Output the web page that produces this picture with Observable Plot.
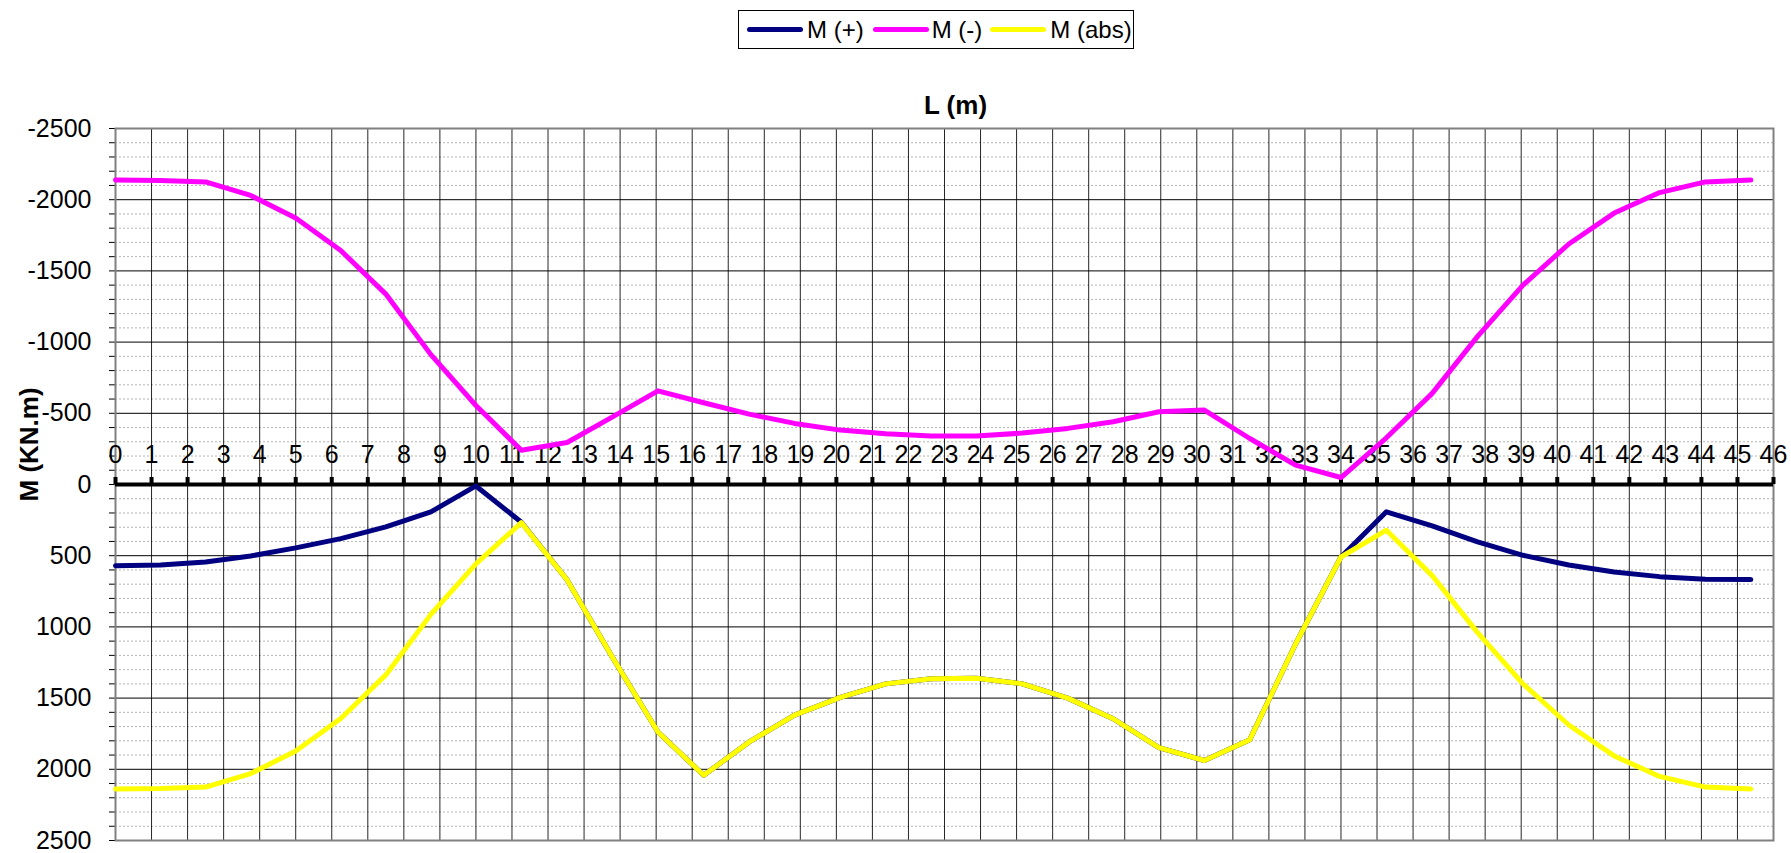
<!DOCTYPE html>
<html>
<head>
<meta charset="utf-8">
<script src="https://cdn.jsdelivr.net/npm/d3@7"></script>
<script src="https://cdn.jsdelivr.net/npm/@observablehq/plot@0.6"></script>
<style>
  html, body { margin: 0; padding: 0; background: #fff; overflow: hidden; }
  body { width: 1791px; height: 853px; font-family: "Liberation Sans", Arial, sans-serif; }
  #legendRow { position: relative; height: 60px; }
  #legend { position: absolute; left: 738px; top: 10px; width: 394px; height: 37px;
            border: 1px solid #000; display: flex; align-items: center; padding: 0; }
  .sw { width: 56px; height: 5px; border-radius: 3px; }
  .lb { font-size: 24px; color: #000; white-space: nowrap; line-height: 1; }
  #chart svg { display: block; }
</style>
</head>
<body>
<div id="legendRow"><div id="legend"></div></div>
<div id="chart"></div>
<script>
// ---- data ----
const xPos = [0, 1.25, 2.5, 3.75, 5, 6.25, 7.5, 8.75, 10,
  11.26, 12.53, 13.79, 15.05, 16.32, 17.58, 18.84, 20.11, 21.37, 22.63,
  23.89, 25.16, 26.42, 27.68, 28.95, 30.21, 31.47, 32.74, 34,
  35.26, 36.53, 37.79, 39.05, 40.32, 41.58, 42.84, 44.11, 45.37];
const mPos = [570, 565, 544, 502, 445, 380, 298, 192, 10,
  265, 670, 1215, 1738, 2042, 1808, 1620, 1495, 1400, 1364,
  1360, 1400, 1500, 1645, 1848, 1938, 1792, 1120, 509,
  192, 291, 403, 497, 565, 614, 647, 666, 668];
const mNeg = [-2138, -2135, -2125, -2030, -1872, -1643, -1337, -912, -555,
  -240, -295, -475, -658, -574, -494, -429, -382, -356, -340,
  -340, -361, -394, -441, -511, -523, -323, -136, -49,
  -328, -640, -1040, -1400, -1689, -1906, -2050, -2125, -2138];
const mAbs = [2138, 2135, 2125, 2030, 1872, 1643, 1337, 912, 557,
  268, 670, 1215, 1738, 2042, 1808, 1620, 1495, 1400, 1364,
  1360, 1400, 1500, 1645, 1848, 1938, 1792, 1120, 509,
  321, 640, 1040, 1400, 1689, 1906, 2050, 2125, 2138];
const seriesNames = ["M (+)", "M (-)", "M (abs)"];
const seriesColors = ["#000080", "#FF00FF", "#FFFF00"];
const xTicks = d3.range(0, 47, 1);
const yLabels = [-2500, -2000, -1500, -1000, -500, 0, 500, 1000, 1500, 2000, 2500];
const yAllTicks = d3.range(-2500, 2501, 100);
const yMinor = yAllTicks.filter(d => !yLabels.includes(d));
const xTitle = "L (m)";
const yTitle = "M (KN.m)";
const zeroLine = [0];

const toRows = vals => xPos.map((x, i) => ({x, v: vals[i]}));
const series = [mPos, mNeg, mAbs].map(toRows);

// ---- legend ----
const leg = document.getElementById("legend");
const gaps = [[8, 4], [9, 3], [8, 4]];
seriesNames.forEach((name, i) => {
  const sw = document.createElement("div");
  sw.className = "sw";
  sw.style.background = seriesColors[i];
  sw.style.marginLeft = gaps[i][0] + "px";
  const lb = document.createElement("div");
  lb.className = "lb";
  lb.style.marginLeft = gaps[i][1] + "px";
  lb.textContent = name;
  leg.appendChild(sw);
  leg.appendChild(lb);
});

// ---- chart ----
const chart = Plot.plot({
  width: 1791,
  height: 793,
  marginLeft: 115,
  marginRight: 18,
  marginTop: 68,
  marginBottom: 13,
  style: {fontSize: "25px", fontFamily: "'Liberation Sans', Arial, sans-serif", background: "#fff", color: "#000"},
  x: {domain: [0, 46], axis: null},
  y: {
    domain: [-2500, 2500],
    reverse: true,
    ticks: yAllTicks,
    tickSize: 6,
    tickPadding: 18,
    tickFormat: d => yLabels.includes(d) ? String(d) : "",
    label: null
  },
  marks: [
    Plot.ruleY(yMinor, {stroke: "#b4b4b4", strokeDasharray: "2,2"}),
    Plot.ruleY(yLabels, {stroke: "#000"}),
    Plot.ruleX(xTicks, {stroke: "#000", strokeOpacity: 0.85}),
    Plot.frame({stroke: "#808080", strokeWidth: 2}),
    Plot.ruleY(zeroLine, {stroke: "#000", strokeWidth: 4}),
    Plot.ruleX(xTicks, {x: d => d, y1: 0, y2: 0, insetTop: -7, stroke: "#000", strokeWidth: 4}),
    Plot.text(xTicks, {x: d => d, y: 0, dy: -30, text: d => String(d), fontSize: 25, fill: "#000"}),
    Plot.line(series[0], {x: "x", y: "v", stroke: seriesColors[0], strokeWidth: 5, strokeLinejoin: "round", strokeLinecap: "round"}),
    Plot.line(series[1], {x: "x", y: "v", stroke: seriesColors[1], strokeWidth: 5, strokeLinejoin: "round", strokeLinecap: "round"}),
    Plot.line(series[2], {x: "x", y: "v", stroke: seriesColors[2], strokeWidth: 5, strokeLinejoin: "round", strokeLinecap: "round"}),
    Plot.text([xTitle], {frameAnchor: "top", dx: 11, dy: -33, fontWeight: "bold", fontSize: 26, fill: "#000"}),
    Plot.text([yTitle], {frameAnchor: "left", rotate: -90, dx: -86, dy: 17, fontWeight: "bold", fontSize: 26, fill: "#000"})
  ]
});
document.getElementById("chart").appendChild(chart);
</script>
</body>
</html>
